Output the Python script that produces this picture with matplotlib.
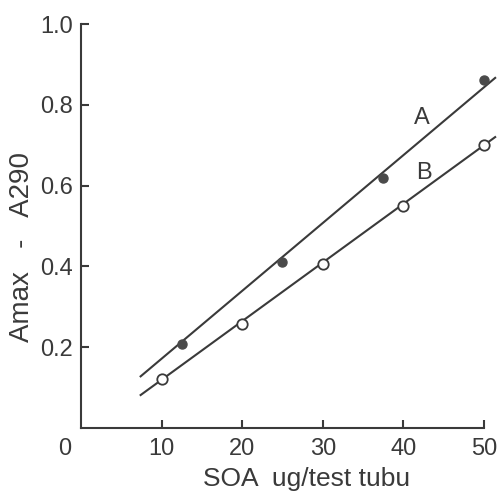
import numpy as np
import matplotlib as mpl
mpl.use('Agg')
import matplotlib.pyplot as plt

# curve A (filled points)
soa_a = [12.5, 25, 37.5, 50]
abs_a = [0.207, 0.412, 0.62, 0.862]
# curve B (open points)
soa_b = [10, 20, 30, 40, 50]
abs_b = [0.121, 0.257, 0.407, 0.55, 0.70]

# drawn regression lines: slope, intercept, x range
fit_a = (0.0168, 0.0034)
fit_b = (0.01452, -0.026)
fit_x = (7.4, 51.4)

xticks = [10, 20, 30, 40, 50]
yticks = [0.2, 0.4, 0.6, 0.8, 1.0]
ytick_labels = ['0.2', '0.4', '0.6', '0.8', '1.0']

ink = '#3a3a3a'
plt.rcParams['font.family'] = ['Liberation Sans', 'DejaVu Sans']

fig = plt.figure(figsize=(5.0, 4.93), dpi=100)
ax = fig.add_axes([0.162, 0.132, 0.838, 0.819])

xs = np.array(fit_x)
for (m, c) in (fit_a, fit_b):
    ax.plot(xs, m * xs + c, color=ink, lw=1.5, clip_on=False)

ax.plot(soa_a, abs_a, 'o', ms=6.5, mfc='#4a4a4a', mec='#4a4a4a',
        clip_on=False, zorder=3)
ax.plot(soa_b, abs_b, 'o', ms=7.5, mfc='white', mec=ink, mew=1.3,
        clip_on=False, zorder=3)

ax.text(42.3, 0.768, 'A', fontsize=17, color=ink, ha='center', va='center')
ax.text(42.5, 0.632, 'B', fontsize=17, color=ink, ha='center', va='center')

ax.set_xlim(0, 52)
ax.set_ylim(0, 1.0)
ax.spines['top'].set_visible(False)
ax.spines['right'].set_visible(False)
ax.spines['bottom'].set_bounds(0, 50)
for s in ('left', 'bottom'):
    ax.spines[s].set_color(ink)
    ax.spines[s].set_linewidth(1.5)

ax.set_xticks(xticks)
ax.set_yticks(yticks)
ax.set_yticklabels(ytick_labels)
ax.tick_params(direction='in', length=6, width=1.5, color=ink,
               labelcolor=ink, labelsize=17)
ax.tick_params(axis='x', pad=7)
ax.tick_params(axis='y', pad=6)

ax.text(-2.0, -0.026, '0', fontsize=17, color=ink, ha='center', va='top')
ax.text(28.0, -0.143, 'SOA  ug/test tubu', fontsize=19, color=ink,
        ha='center', va='baseline')
fig.text(0.044, 0.50, 'Amax   -   A290', fontsize=20, color=ink,
         rotation=90, ha='center', va='center')

fig.savefig('out.png', dpi=100)
